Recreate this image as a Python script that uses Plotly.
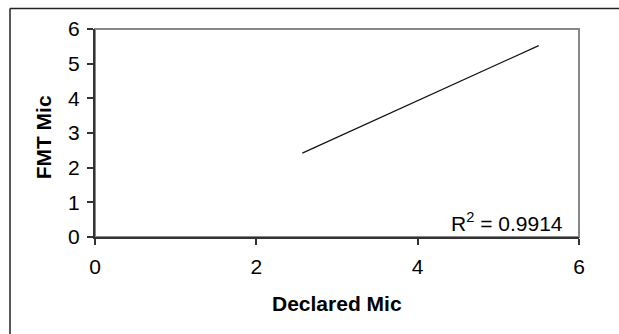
import plotly.graph_objects as go

# Data (linear trendline endpoints)
declared_mic = [2.57, 5.50]
fmt_mic = [2.42, 5.52]
r_squared_label = "R<sup>2</sup> = 0.9914"
x_title = "Declared Mic"
y_title = "FMT Mic"
x_ticks = [0, 2, 4, 6]
y_ticks = [0, 1, 2, 3, 4, 5, 6]

FONT = "Liberation Sans, Arial, sans-serif"
FS = 21

fig = go.Figure()
fig.add_trace(go.Scatter(
    x=declared_mic, y=fmt_mic, mode="lines",
    line=dict(color="#111111", width=1.2),
    showlegend=False, hoverinfo="skip",
))

border = dict(color="#222222", width=1.5)

fig.update_layout(
    width=619, height=334,
    margin=dict(l=95, r=40, t=29, b=97),
    paper_bgcolor="white", plot_bgcolor="white",
    font=dict(family=FONT, size=FS, color="black"),
    xaxis=dict(
        range=[0, 6], tickvals=x_ticks, showgrid=False, zeroline=False,
        showline=True, linecolor="#333333", linewidth=2,
        ticks="outside", ticklen=6, tickwidth=1.5, tickcolor="#333333",
        tickfont=dict(size=FS), ticklabelstandoff=4, fixedrange=True,
    ),
    yaxis=dict(
        range=[0, 6], tickvals=y_ticks, showgrid=False, zeroline=False,
        showline=True, linecolor="#333333", linewidth=2,
        ticks="outside", ticklen=6, tickwidth=1.5, tickcolor="#333333",
        tickfont=dict(size=FS), ticklabelstandoff=3, fixedrange=True,
    ),
    shapes=[
        # plot-area border (gray)
        dict(type="rect", xref="paper", yref="paper", x0=0, x1=1, y0=0, y1=1,
             line=dict(color="#888888", width=2), layer="below"),
        # outer chart border: top and left edges (others fall outside the picture)
        dict(type="line", xref="paper", yref="paper",
             x0=-0.1756, x1=1.1, y0=1.099, y1=1.099, line=border),
        dict(type="line", xref="paper", yref="paper",
             x0=-0.1756, x1=-0.1756, y0=-0.55, y1=1.099, line=border),
    ],
    annotations=[
        dict(text=r_squared_label, x=5.83, y=0.43, xref="x", yref="y",
             xanchor="right", yanchor="middle", showarrow=False,
             font=dict(size=FS)),
        dict(text="<b>" + x_title + "</b>", x=0.5, y=-0.322, xref="paper", yref="paper",
             xanchor="center", yanchor="middle", showarrow=False,
             font=dict(size=FS)),
        dict(text="<b>" + y_title + "</b>", x=-0.107, y=0.48, xref="paper", yref="paper",
             xanchor="center", yanchor="middle", showarrow=False, textangle=-90,
             font=dict(size=FS)),
    ],
)

fig.write_html(
    "out.html", config={"displayModeBar": False},
    post_script="document.body.style.margin='0';document.body.style.overflow='hidden';"
                "document.documentElement.style.overflow='hidden';",
)
